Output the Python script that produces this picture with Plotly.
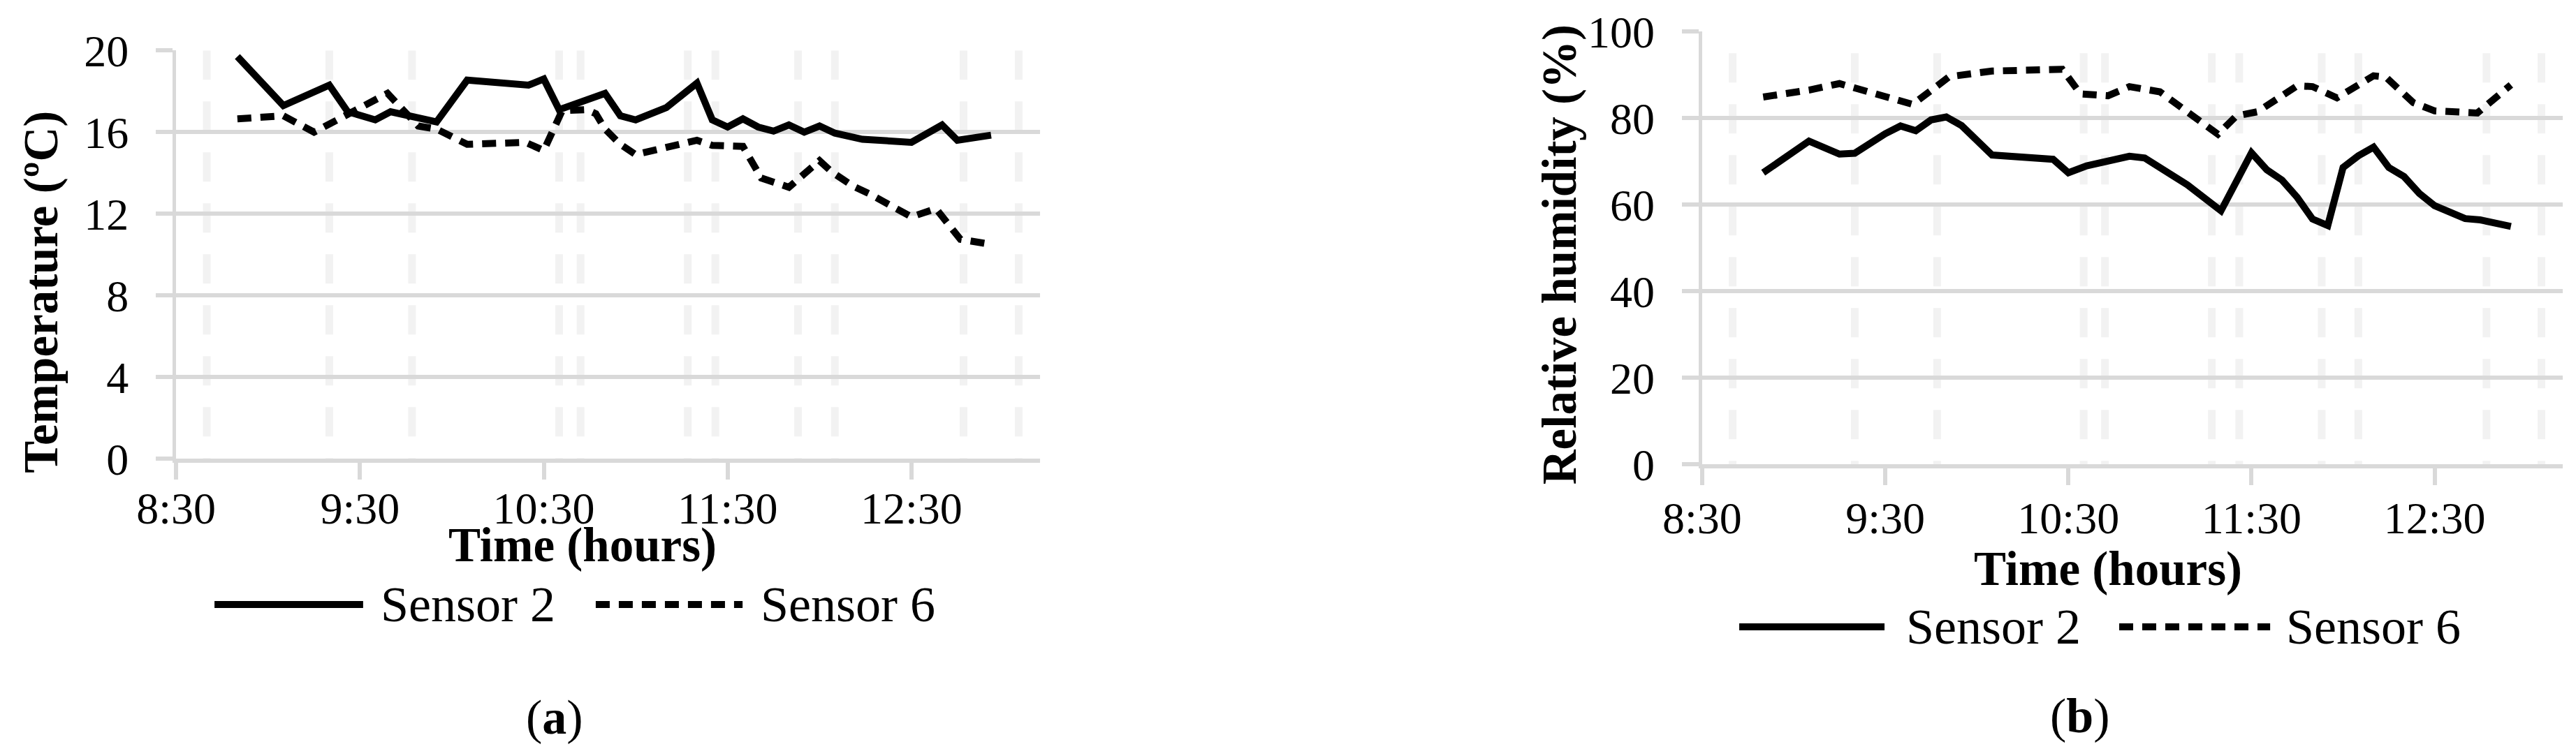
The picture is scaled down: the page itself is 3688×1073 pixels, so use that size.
import plotly.graph_objects as go

# time stamps are "H:MM"

# (a) temperature
temp_s2_time = ["8:50", "9:05", "9:20", "9:26", "9:35", "9:40", "9:55", "10:05", "10:25", "10:30",
                "10:35", "10:50", "10:55", "11:00", "11:10", "11:20", "11:25", "11:30", "11:35", "11:40",
                "11:45", "11:50", "11:55", "12:00", "12:05", "12:14", "12:30", "12:40", "12:45", "12:56"]
temp_s2 = [19.7, 17.3, 18.3, 17.0, 16.6, 17.0, 16.5, 18.55, 18.3, 18.6,
           17.1, 17.9, 16.8, 16.6, 17.2, 18.4, 16.6, 16.25, 16.65, 16.25,
           16.05, 16.35, 16.0, 16.3, 15.95, 15.65, 15.5, 16.35, 15.6, 15.85]

temp_s6_time = ["8:50", "9:05", "9:15", "9:39", "9:49", "9:55", "10:05", "10:24", "10:30", "10:36",
                "10:44", "10:47", "10:50", "10:55", "11:00", "11:20", "11:25", "11:35", "11:41", "11:46",
                "11:50", "12:00", "12:04", "12:11", "12:16", "12:30", "12:38", "12:46", "12:54"]
temp_s6 = [16.65, 16.8, 16.0, 17.9, 16.3, 16.15, 15.4, 15.5, 15.1, 17.05,
           17.1, 16.9, 16.15, 15.4, 14.9, 15.6, 15.35, 15.3, 13.75, 13.5,
           13.3, 14.6, 14.05, 13.35, 13.0, 11.85, 12.25, 10.75, 10.55]

# (b) relative humidity
rh_s2_time = ["8:50", "9:05", "9:15", "9:20", "9:30", "9:35", "9:40", "9:45", "9:50", "9:55",
              "10:05", "10:25", "10:30", "10:36", "10:50", "10:55", "11:09", "11:20", "11:30", "11:35",
              "11:40", "11:45", "11:50", "11:55", "12:00", "12:05", "12:10", "12:15", "12:20", "12:25",
              "12:30", "12:35", "12:40", "12:45", "12:55"]
rh_s2 = [67.4, 74.7, 71.7, 71.9, 76.4, 78.2, 77.1, 79.6, 80.3, 78.3,
         71.5, 70.5, 67.4, 69.0, 71.2, 70.8, 64.6, 58.6, 72.0, 68.1,
         65.7, 61.7, 56.7, 55.2, 68.6, 71.3, 73.3, 68.6, 66.5, 62.6,
         59.8, 58.3, 56.8, 56.5, 55.0]

rh_s6_time = ["8:50", "9:05", "9:15", "9:39", "9:51", "10:05", "10:28", "10:34", "10:43", "10:50",
              "11:00", "11:19", "11:25", "11:32", "11:45", "11:50", "11:58", "12:10", "12:14", "12:23",
              "12:30", "12:44", "12:55"]
rh_s6 = [84.9, 86.5, 88.0, 83.2, 89.6, 90.9, 91.3, 85.6, 85.2, 87.3,
         86.1, 76.3, 80.5, 81.5, 87.5, 87.3, 84.7, 89.8, 89.5, 83.6,
         81.7, 81.2, 87.7]

# light dashed vertical lines in the background
minor_grid_time = ["8:40", "9:20", "9:47", "10:35", "10:42", "11:17", "11:26", "11:53", "12:05", "12:47", "13:05"]

tick_time = ["8:30", "9:30", "10:30", "11:30", "12:30"]
temp_ticks = [0, 4, 8, 12, 16, 20]
rh_ticks = [0, 20, 40, 60, 80, 100]


def hrs(t):
    h, m = t.split(":")
    return int(h) + int(m) / 60


FONT = "Liberation Serif"
GRID = "#d9d9d9"
MINOR = "#f2f2f2"
DASH = "20px,13px"

fig = go.Figure()

fig.add_trace(go.Scatter(x=[hrs(t) for t in temp_s2_time], y=temp_s2, mode="lines", name="Sensor 2",
                         line=dict(color="black", width=10), xaxis="x", yaxis="y"))
fig.add_trace(go.Scatter(x=[hrs(t) for t in temp_s6_time], y=temp_s6, mode="lines", name="Sensor 6",
                         line=dict(color="black", width=10, dash=DASH), xaxis="x", yaxis="y"))
fig.add_trace(go.Scatter(x=[hrs(t) for t in rh_s2_time], y=rh_s2, mode="lines", name="Sensor 2",
                         line=dict(color="black", width=10), xaxis="x2", yaxis="y2"))
fig.add_trace(go.Scatter(x=[hrs(t) for t in rh_s6_time], y=rh_s6, mode="lines", name="Sensor 6",
                         line=dict(color="black", width=10, dash=DASH), xaxis="x2", yaxis="y2"))

shapes = []
for t in minor_grid_time:
    shapes.append(dict(type="line", xref="x", yref="y", x0=hrs(t), x1=hrs(t), y0=20, y1=0,
                       line=dict(color=MINOR, width=11, dash="42px,31px"), layer="below"))
    shapes.append(dict(type="line", xref="x2", yref="y2", x0=hrs(t), x1=hrs(t), y0=95, y1=0,
                       line=dict(color=MINOR, width=11, dash="42px,31px"), layer="below"))

# hand-made legends (long line samples like the original)
legend_rows = [
    (0.2004, (0.0811, 0.1388), 0.1451, (0.2291, 0.2861), 0.2926),
    (0.1706, (0.6730, 0.7294), 0.7373, (0.8205, 0.8791), 0.8848),
]
text_font = dict(family=FONT, size=72, color="black")
annotations = []
for ly, solid, t2, dashed, t6 in legend_rows:
    shapes.append(dict(type="line", xref="paper", yref="paper", x0=solid[0], x1=solid[1], y0=ly, y1=ly,
                       line=dict(color="black", width=10)))
    shapes.append(dict(type="line", xref="paper", yref="paper", x0=dashed[0], x1=dashed[1], y0=ly, y1=ly,
                       line=dict(color="black", width=10, dash=DASH)))
    annotations.append(dict(text="Sensor 2", x=t2, y=ly, xref="paper", yref="paper", xanchor="left",
                            yanchor="middle", showarrow=False, font=text_font))
    annotations.append(dict(text="Sensor 6", x=t6, y=ly, xref="paper", yref="paper", xanchor="left",
                            yanchor="middle", showarrow=False, font=text_font))

title_font = dict(family=FONT, size=69, color="black")
annotations += [
    dict(text="<b>Time (hours)</b>", x=0.2240, y=0.2796, xref="paper", yref="paper", showarrow=False,
         xanchor="center", yanchor="middle", font=title_font),
    dict(text="<b>Time (hours)</b>", x=0.8162, y=0.2479, xref="paper", yref="paper", showarrow=False,
         xanchor="center", yanchor="middle", font=title_font),
    dict(text="<b>Temperature (ºC)</b>", x=0.0138, y=0.618, xref="paper", yref="paper", showarrow=False,
         textangle=-90, xanchor="center", yanchor="middle", font=title_font),
    dict(text="<b>Relative humidity (%)</b>", x=0.6033, y=0.668, xref="paper", yref="paper", showarrow=False,
         textangle=-90, xanchor="center", yanchor="middle", font=title_font),
    dict(text="(<b>a</b>)", x=0.2131, y=0.0503, xref="paper", yref="paper", showarrow=False,
         xanchor="center", yanchor="middle", font=dict(family=FONT, size=70, color="black")),
    dict(text="(<b>b</b>)", x=0.8053, y=0.0513, xref="paper", yref="paper", showarrow=False,
         xanchor="center", yanchor="middle", font=dict(family=FONT, size=70, color="black")),
]

tick_font = dict(family=FONT, size=64, color="black")


def xaxis(domain, anchor, standoff):
    return dict(domain=domain, anchor=anchor, range=[8.5, 13.2], automargin=False,
                tickvals=[hrs(t) for t in tick_time], ticktext=tick_time,
                showgrid=False, zeroline=False, showline=True, linecolor=GRID, linewidth=6,
                ticks="outside", ticklen=24, tickwidth=6, tickcolor=GRID,
                tickfont=tick_font, ticklabelstandoff=standoff)


def yaxis(domain, anchor, top, ticks):
    return dict(domain=domain, anchor=anchor, range=[0, top], tickvals=ticks, automargin=False,
                showgrid=True, gridcolor=GRID, gridwidth=6, zeroline=False,
                showline=True, linecolor=GRID, linewidth=5,
                ticks="outside", ticklen=24, tickwidth=6, tickcolor=GRID,
                tickfont=tick_font, ticklabelstandoff=26)


fig.update_layout(
    width=3688, height=1073,
    margin=dict(l=0, r=0, t=0, b=0, pad=0, autoexpand=False),
    paper_bgcolor="white", plot_bgcolor="white",
    showlegend=False,
    xaxis=xaxis([0.0662, 0.4016], "y", -14),
    yaxis=yaxis([0.3949, 0.9401], "x", 20, temp_ticks),
    xaxis2=xaxis([0.6586, 0.9927], "y2", -8),
    yaxis2=yaxis([0.3874, 0.9652], "x2", 100, rh_ticks),
    shapes=shapes,
    annotations=annotations,
)

fig.write_html("out.html")
